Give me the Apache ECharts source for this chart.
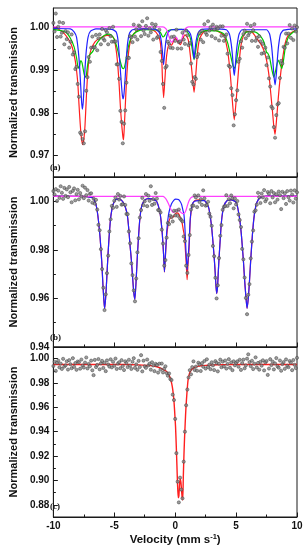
<!DOCTYPE html>
<html><head><meta charset="utf-8">
<script src="https://cdn.jsdelivr.net/npm/echarts@6/dist/echarts.min.js"></script>
<style>html,body{margin:0;padding:0;background:#fff}#c{width:306px;height:550px}</style>
</head><body><div id="c"></div>
<script>
// Channel velocities (mm/s)
const velocity = [
-10,-9.9,-9.8,-9.7,-9.6,-9.5,-9.4,-9.3,-9.2,-9.1,
-9,-8.9,-8.8,-8.7,-8.6,-8.5,-8.4,-8.3,-8.2,-8.1,
-8,-7.9,-7.8,-7.7,-7.6,-7.5,-7.4,-7.3,-7.2,-7.1,
-7,-6.9,-6.8,-6.7,-6.6,-6.5,-6.4,-6.3,-6.2,-6.1,
-6,-5.9,-5.8,-5.7,-5.6,-5.5,-5.4,-5.3,-5.2,-5.1,
-5,-4.9,-4.8,-4.7,-4.6,-4.5,-4.4,-4.3,-4.2,-4.1,
-4,-3.9,-3.8,-3.7,-3.6,-3.5,-3.4,-3.3,-3.2,-3.1,
-3,-2.9,-2.8,-2.7,-2.6,-2.5,-2.4,-2.3,-2.2,-2.1,
-2,-1.9,-1.8,-1.7,-1.6,-1.5,-1.4,-1.3,-1.2,-1.1,
-1,-0.9,-0.8,-0.7,-0.6,-0.5,-0.4,-0.3,-0.2,-0.1,
0,0.1,0.2,0.3,0.4,0.5,0.6,0.7,0.8,0.9,
1,1.1,1.2,1.3,1.4,1.5,1.6,1.7,1.8,1.9,
2,2.1,2.2,2.3,2.4,2.5,2.6,2.7,2.8,2.9,
3,3.1,3.2,3.3,3.4,3.5,3.6,3.7,3.8,3.9,
4,4.1,4.2,4.3,4.4,4.5,4.6,4.7,4.8,4.9,
5,5.1,5.2,5.3,5.4,5.5,5.6,5.7,5.8,5.9,
6,6.1,6.2,6.3,6.4,6.5,6.6,6.7,6.8,6.9,
7,7.1,7.2,7.3,7.4,7.5,7.6,7.7,7.8,7.9,
8,8.1,8.2,8.3,8.4,8.5,8.6,8.7,8.8,8.9,
9,9.1,9.2,9.3,9.4,9.5,9.6,9.7,9.8,9.9,10];

// Measured transmission, panel (a)
const measuredA = [
1.0011,0.9991,1.0033,0.9978,1.0002,1.0013,0.9979,0.9988,1.0011,0.9961,
0.9992,0.9973,0.9989,0.9953,0.9967,0.9984,0.9937,0.9942,0.9903,0.9908,
0.9868,0.9838,0.9754,0.9750,0.9739,0.9729,0.9757,0.9852,0.9884,0.9931,
0.9920,0.9953,0.9979,0.9954,0.9954,0.9983,0.9947,0.9975,0.9984,0.9961,
0.9997,0.9974,0.9970,0.9994,0.9989,0.9961,0.9999,0.9980,0.9967,1.0002,
0.9967,0.9968,0.9914,0.9914,0.9880,0.9805,0.9779,0.9729,0.9775,0.9806,
0.9871,0.9930,0.9929,0.9980,0.9977,0.9966,1.0007,0.9979,0.9996,0.9972,
1.0005,1.0003,0.9980,1.0015,0.9993,0.9985,1.0004,1.0022,0.9981,0.9998,
0.9989,1.0009,0.9972,1.0001,1.0007,0.9976,0.9979,0.9995,0.9943,0.9922,
0.9868,0.9812,0.9906,0.9910,0.9967,0.9962,0.9953,0.9978,0.9952,0.9979,
0.9969,0.9995,0.9951,0.9966,0.9968,0.9951,0.9988,0.9972,0.9962,0.9993,
0.9982,0.9959,0.9964,0.9916,0.9873,0.9867,0.9884,0.9880,0.9931,0.9938,
0.9987,0.9972,0.9993,0.9966,1.0008,0.9988,0.9983,1.0015,0.9993,1.0001,
0.9980,1.0007,0.9996,0.9975,1.0002,0.9998,0.9970,1.0003,0.9981,1.0003,
0.9969,0.9979,0.9984,0.9939,0.9911,0.9908,0.9858,0.9842,0.9771,0.9797,
0.9830,0.9853,0.9920,0.9927,0.9968,0.9953,0.9985,0.9993,0.9975,1.0009,
0.9982,0.9988,1.0004,0.9969,0.9994,1.0008,0.9969,0.9976,0.9955,0.9980,
0.9968,0.9939,0.9962,0.9941,0.9953,0.9912,0.9930,0.9881,0.9862,0.9815,
0.9811,0.9767,0.9742,0.9795,0.9820,0.9823,0.9882,0.9922,0.9916,0.9955,
0.9953,0.9986,0.9963,0.9986,1.0006,0.9976,0.9998,0.9971,1.0005,0.9991,1.0001];

// Measured transmission, panel (b)
const measuredB = [
1.0042,1.0028,1.0050,1.0001,1.0044,1.0014,1.0062,1.0035,1.0010,1.0055,
1.0022,1.0049,1.0017,1.0059,1.0037,0.9996,1.0043,1.0053,1.0004,1.0030,
1.0047,1.0008,1.0034,1.0020,1.0064,1.0013,1.0056,1.0025,1.0046,1.0003,
1.0031,1.0033,0.9994,1.0011,0.9990,1.0006,0.9966,0.9903,0.9881,0.9803,
0.9721,0.9644,0.9552,0.9617,0.9704,0.9776,0.9876,0.9926,0.9981,0.9973,
1.0002,1.0016,0.9977,1.0030,1.0007,1.0022,0.9986,0.9988,1.0020,0.9985,
0.9948,0.9947,0.9876,0.9827,0.9744,0.9696,0.9633,0.9588,0.9682,0.9790,
0.9848,0.9933,0.9964,1.0014,0.9984,1.0000,1.0030,0.9980,1.0023,1.0002,
1.0062,0.9985,1.0009,0.9990,1.0034,1.0011,0.9964,0.9963,0.9954,0.9883,
0.9826,0.9735,0.9758,0.9850,0.9911,0.9906,0.9940,0.9935,0.9917,0.9961,
0.9942,0.9961,0.9940,0.9966,0.9929,0.9923,0.9917,0.9855,0.9836,0.9735,
0.9705,0.9779,0.9861,0.9966,0.9982,0.9982,1.0024,1.0016,0.9976,1.0024,
0.9997,1.0009,0.9985,1.0045,1.0012,0.9982,0.9985,0.9998,0.9949,0.9936,
0.9899,0.9816,0.9774,0.9685,0.9600,0.9654,0.9766,0.9858,0.9902,0.9965,
0.9977,0.9980,1.0025,0.9981,1.0009,0.9992,1.0024,1.0012,0.9971,1.0012,
0.9987,1.0001,0.9946,0.9923,0.9894,0.9804,0.9761,0.9686,0.9602,0.9535,
0.9615,0.9659,0.9765,0.9834,0.9880,0.9957,0.9963,0.9986,1.0035,1.0017,
0.9993,1.0032,1.0016,1.0046,1.0000,1.0009,1.0038,1.0031,0.9992,1.0042,
1.0016,1.0034,0.9996,1.0029,1.0007,1.0040,1.0025,0.9968,1.0039,1.0013,
1.0033,0.9989,1.0042,1.0017,1.0003,1.0044,1.0028,0.9995,1.0045,1.0011,1.0037];

// Measured transmission, panel (c)
const measuredC = [
0.9939,0.9974,0.9899,0.9965,0.9983,0.9928,0.9959,0.9915,0.9998,0.9934,
0.9945,0.9978,0.9910,0.9987,0.9954,0.9921,1.0003,0.9932,0.9963,0.9908,
0.9976,0.9970,0.9917,0.9992,0.9943,0.9926,0.9967,1.0009,0.9919,0.9956,
0.9937,0.9983,0.9904,0.9864,0.9989,0.9930,0.9948,0.9996,0.9912,0.9961,
0.9981,0.9923,0.9965,0.9897,0.9985,0.9952,0.9934,0.9994,0.9928,0.9974,
0.9941,1.0000,0.9915,0.9959,0.9970,0.9921,0.9987,0.9939,0.9906,0.9978,
0.9963,0.9930,0.9990,0.9943,0.9915,0.9974,1.0003,0.9924,0.9952,0.9908,
0.9981,0.9931,1.0028,0.9895,0.9983,0.9937,0.9924,0.9992,0.9944,0.9959,
0.9909,0.9970,0.9943,0.9897,0.9957,0.9947,0.9885,0.9958,0.9910,0.9959,
0.9886,0.9916,0.9937,0.9881,0.9859,0.9878,0.9832,0.9824,0.9704,0.9660,
0.9505,0.9224,0.8990,0.8820,0.9023,0.8925,0.8853,0.9154,0.9400,0.9617,
0.9746,0.9845,0.9905,0.9871,0.9930,0.9977,0.9906,0.9934,0.9900,0.9966,
0.9952,0.9898,0.9963,0.9933,0.9980,0.9918,0.9994,0.9931,0.9950,0.9913,
0.9970,0.9944,0.9906,0.9979,0.9964,0.9895,0.9958,0.9991,0.9929,0.9975,
0.9936,0.9984,0.9918,0.9956,0.9995,0.9925,0.9969,0.9905,0.9978,0.9945,
0.9964,0.9977,0.9933,0.9990,0.9907,0.9962,0.9991,0.9920,0.9944,0.9999,
1.0035,0.9971,0.9938,0.9982,0.9914,0.9958,1.0010,0.9927,0.9964,0.9909,
0.9973,0.9942,0.9986,0.9903,0.9969,0.9980,0.9866,0.9918,0.9995,0.9947,
0.9975,0.9911,0.9960,1.0004,0.9936,0.9925,0.9984,0.9900,0.9955,0.9971,
0.9916,0.9993,0.9940,0.9929,0.9980,0.9966,0.9905,0.9988,0.9949,0.9922,1.0006];

// Fitted curves [velocity, transmission]
const fitTotalA = [[-10,0.9999],[-9.6,0.9997],[-9.1,0.9986],[-8.7,0.9970],[-8.45,0.9954],[-8.2,0.9922],[-8.0,0.9872],[-7.9,0.9822],[-7.8,0.9776],[-7.7,0.9742],[-7.6,0.9726],[-7.5,0.9738],[-7.4,0.9772],[-7.3,0.9832],[-7.2,0.9886],[-7.1,0.9920],[-7.0,0.9938],[-6.9,0.9949],[-6.6,0.9966],[-6.2,0.9975],[-5.6,0.9982],[-5.2,0.9980],[-5.0,0.9973],[-4.9,0.9958],[-4.8,0.9938],[-4.7,0.9908],[-4.6,0.9866],[-4.5,0.9816],[-4.4,0.9776],[-4.3,0.9746],[-4.25,0.9737],[-4.2,0.9754],[-4.1,0.9814],[-4.0,0.9874],[-3.9,0.9918],[-3.8,0.9948],[-3.6,0.9976],[-3.2,0.9991],[-2.7,0.9997],[-2.0,0.9996],[-1.6,0.9990],[-1.3,0.9975],[-1.2,0.9961],[-1.1,0.9925],[-1.05,0.9884],[-0.95,0.9836],[-0.85,0.9876],[-0.75,0.9920],[-0.65,0.9945],[-0.5,0.9962],[-0.4,0.9961],[-0.3,0.9959],[-0.15,0.9967],[0.05,0.9975],[0.25,0.9966],[0.43,0.9960],[0.6,0.9972],[0.8,0.9983],[1.0,0.9977],[1.1,0.9968],[1.24,0.9936],[1.4,0.9889],[1.55,0.9848],[1.69,0.9889],[1.84,0.9944],[2.02,0.9975],[2.37,0.9991],[3.0,0.9995],[3.6,0.9990],[4.06,0.9979],[4.2,0.9961],[4.32,0.9944],[4.53,0.9889],[4.72,0.9819],[4.85,0.9784],[5.0,0.9827],[5.19,0.9897],[5.37,0.9952],[5.58,0.9979],[5.9,0.9991],[6.3,0.9990],[6.69,0.9975],[7.08,0.9959],[7.3,0.9945],[7.47,0.9928],[7.6,0.9908],[7.73,0.9881],[7.85,0.9845],[7.99,0.9803],[8.1,0.9768],[8.2,0.9750],[8.35,0.9795],[8.45,0.9830],[8.56,0.9866],[8.77,0.9918],[9.04,0.9965],[9.3,0.9983],[9.69,0.9991],[10,0.9994]];
const fitSextet1A = [[-10,0.9998],[-8.6,0.9997],[-8.3,0.9990],[-8.1,0.9978],[-7.95,0.9945],[-7.85,0.9910],[-7.75,0.9860],[-7.68,0.9825],[-7.62,0.9809],[-7.55,0.9825],[-7.48,0.9862],[-7.4,0.9905],[-7.3,0.9945],[-7.15,0.9978],[-6.95,0.9992],[-6.5,0.9997],[-5.2,0.9996],[-4.85,0.9990],[-4.7,0.9972],[-4.6,0.9940],[-4.5,0.9900],[-4.4,0.9862],[-4.33,0.9840],[-4.27,0.9833],[-4.2,0.9845],[-4.1,0.9885],[-4.0,0.9932],[-3.9,0.9965],[-3.75,0.9987],[-3.5,0.9995],[-2.5,0.9997],[-1.6,0.9996],[-1.3,0.9988],[-1.15,0.9970],[-1.05,0.9945],[-0.95,0.9913],[-0.85,0.9945],[-0.75,0.9970],[-0.6,0.9988],[-0.3,0.9995],[0.7,0.9996],[1.0,0.9994],[1.25,0.9985],[1.4,0.9965],[1.48,0.9945],[1.55,0.9927],[1.62,0.9945],[1.7,0.9965],[1.85,0.9985],[2.1,0.9995],[3.0,0.9997],[4.2,0.9995],[4.45,0.9985],[4.6,0.9962],[4.7,0.9935],[4.78,0.9905],[4.85,0.9888],[4.92,0.9905],[5.0,0.9935],[5.1,0.9962],[5.25,0.9985],[5.5,0.9995],[7.5,0.9995],[7.75,0.9985],[7.9,0.9960],[8.0,0.9930],[8.1,0.9890],[8.2,0.9866],[8.3,0.9890],[8.4,0.9930],[8.5,0.9960],[8.65,0.9985],[8.9,0.9994],[10,0.9997]];
const fitSextet2A = [[-10,0.9996],[-9.0,0.9990],[-8.6,0.9975],[-8.3,0.9955],[-8.1,0.9930],[-7.95,0.9905],[-7.85,0.9910],[-7.75,0.9923],[-7.65,0.9918],[-7.5,0.9895],[-7.4,0.9884],[-7.3,0.9888],[-7.2,0.9910],[-7.05,0.9935],[-6.9,0.9940],[-6.75,0.9945],[-6.5,0.9960],[-6.2,0.9972],[-5.8,0.9982],[-5.4,0.9985],[-5.1,0.9978],[-4.9,0.9965],[-4.7,0.9945],[-4.5,0.9920],[-4.35,0.9906],[-4.22,0.9904],[-4.1,0.9915],[-3.95,0.9940],[-3.8,0.9960],[-3.6,0.9978],[-3.2,0.9990],[-2.5,0.9995],[-1.5,0.9994],[-1.2,0.9988],[-1.0,0.9978],[-0.9,0.9980],[-0.7,0.9990],[-0.4,0.9995],[0.5,0.9996],[1.0,0.9990],[1.25,0.9975],[1.42,0.9945],[1.55,0.9925],[1.68,0.9945],[1.85,0.9975],[2.1,0.9988],[2.5,0.9993],[3.5,0.9992],[4.0,0.9985],[4.3,0.9965],[4.55,0.9935],[4.75,0.9910],[4.88,0.9905],[5.05,0.9925],[5.25,0.9960],[5.5,0.9980],[5.9,0.9990],[6.5,0.9990],[7.0,0.9980],[7.3,0.9965],[7.5,0.9942],[7.6,0.9940],[7.75,0.9930],[7.95,0.9900],[8.1,0.9884],[8.25,0.9900],[8.45,0.9924],[8.6,0.9915],[8.75,0.9904],[8.9,0.9925],[9.05,0.9955],[9.3,0.9978],[9.7,0.9990],[10,0.9993]];
const fitDoubletA = [[-10,1.0002],[-1.0,1.0002],[-0.75,0.9997],[-0.6,0.9988],[-0.45,0.9974],[-0.3,0.9966],[-0.18,0.9969],[-0.05,0.9977],[0.08,0.9978],[0.2,0.9972],[0.32,0.9966],[0.43,0.9965],[0.55,0.9974],[0.7,0.9989],[0.85,0.9998],[1.1,1.0002],[10,1.0002]];

const fitTotalB = [[-10,1.0021],[-7.5,1.0020],[-7.0,1.0017],[-6.76,1.0014],[-6.6,1.0000],[-6.5,0.9986],[-6.4,0.9960],[-6.29,0.9917],[-6.16,0.9848],[-6.03,0.9752],[-5.93,0.9655],[-5.85,0.9590],[-5.79,0.9559],[-5.72,0.9595],[-5.66,0.9641],[-5.56,0.9738],[-5.45,0.9834],[-5.3,0.9931],[-5.2,0.9965],[-5.11,0.9986],[-4.88,1.0007],[-4.6,1.0010],[-4.4,1.0004],[-4.2,0.9990],[-4.0,0.9960],[-3.9,0.9932],[-3.8,0.9880],[-3.7,0.9815],[-3.6,0.9760],[-3.5,0.9690],[-3.4,0.9625],[-3.31,0.9597],[-3.2,0.9680],[-3.1,0.9780],[-3.0,0.9860],[-2.9,0.9928],[-2.75,0.9980],[-2.5,1.0005],[-2.2,1.0011],[-1.9,1.0010],[-1.53,1.0000],[-1.27,0.9959],[-1.15,0.9915],[-1.05,0.9860],[-0.95,0.9779],[-0.88,0.9708],[-0.8,0.9775],[-0.7,0.9855],[-0.6,0.9898],[-0.5,0.9920],[-0.4,0.9932],[-0.3,0.9932],[-0.15,0.9936],[0.0,0.9947],[0.15,0.9952],[0.3,0.9947],[0.45,0.9930],[0.55,0.9916],[0.65,0.9887],[0.75,0.9860],[0.85,0.9790],[0.92,0.9730],[0.98,0.9677],[1.05,0.9738],[1.14,0.9803],[1.24,0.9921],[1.4,0.9984],[1.6,1.0002],[2.0,1.0006],[2.4,1.0003],[2.6,0.9990],[2.76,0.9972],[2.9,0.9930],[3.0,0.9890],[3.12,0.9821],[3.2,0.9770],[3.28,0.9710],[3.35,0.9650],[3.41,0.9620],[3.48,0.9650],[3.54,0.9710],[3.6,0.9765],[3.67,0.9821],[3.8,0.9917],[3.99,0.9979],[4.27,1.0003],[4.6,1.0006],[4.98,0.9997],[5.11,0.9979],[5.22,0.9950],[5.32,0.9917],[5.42,0.9870],[5.5,0.9821],[5.6,0.9755],[5.69,0.9683],[5.8,0.9610],[5.9,0.9559],[6.0,0.9600],[6.08,0.9655],[6.15,0.9715],[6.21,0.9766],[6.34,0.9862],[6.42,0.9910],[6.5,0.9945],[6.6,0.9975],[6.68,0.9993],[6.94,1.0014],[7.47,1.0021],[10,1.0021]];
const fitSextetB = [[-10,1.0021],[-7.5,1.0020],[-7.0,1.0017],[-6.76,1.0014],[-6.6,1.0000],[-6.5,0.9986],[-6.4,0.9960],[-6.29,0.9917],[-6.16,0.9848],[-6.03,0.9752],[-5.93,0.9655],[-5.85,0.9590],[-5.79,0.9559],[-5.72,0.9595],[-5.66,0.9641],[-5.56,0.9738],[-5.45,0.9834],[-5.3,0.9931],[-5.2,0.9965],[-5.11,0.9986],[-4.88,1.0007],[-4.6,1.0010],[-4.4,1.0004],[-4.2,0.9990],[-4.0,0.9960],[-3.9,0.9932],[-3.8,0.9880],[-3.7,0.9815],[-3.6,0.9760],[-3.5,0.9690],[-3.4,0.9625],[-3.31,0.9597],[-3.2,0.9680],[-3.1,0.9780],[-3.0,0.9860],[-2.9,0.9928],[-2.75,0.9980],[-2.5,1.0005],[-2.2,1.0011],[-1.9,1.0010],[-1.53,1.0000],[-1.27,0.9959],[-1.15,0.9915],[-1.05,0.9860],[-0.95,0.9779],[-0.88,0.9710],[-0.8,0.9779],[-0.7,0.9870],[-0.6,0.9925],[-0.49,0.9959],[-0.3,0.9990],[-0.1,1.0005],[0.05,1.0009],[0.27,1.0007],[0.42,0.9998],[0.53,0.9986],[0.63,0.9965],[0.72,0.9945],[0.8,0.9890],[0.88,0.9800],[0.94,0.9745],[0.98,0.9717],[1.04,0.9750],[1.14,0.9825],[1.24,0.9931],[1.4,0.9986],[1.58,1.0000],[1.97,1.0003],[2.4,1.0003],[2.6,0.9990],[2.76,0.9972],[2.9,0.9930],[3.0,0.9890],[3.12,0.9821],[3.2,0.9770],[3.28,0.9710],[3.35,0.9650],[3.41,0.9620],[3.48,0.9650],[3.54,0.9710],[3.6,0.9765],[3.67,0.9821],[3.8,0.9917],[3.99,0.9979],[4.27,1.0003],[4.6,1.0006],[4.98,0.9997],[5.11,0.9979],[5.22,0.9950],[5.32,0.9917],[5.42,0.9870],[5.5,0.9821],[5.6,0.9755],[5.69,0.9683],[5.8,0.9610],[5.9,0.9559],[6.0,0.9600],[6.08,0.9655],[6.15,0.9715],[6.21,0.9766],[6.34,0.9862],[6.42,0.9910],[6.5,0.9945],[6.6,0.9975],[6.68,0.9993],[6.94,1.0014],[7.47,1.0021],[10,1.0021]];
const fitDoubletB = [[-10,1.0020],[-1.0,1.0020],[-0.85,1.0015],[-0.7,1.0005],[-0.55,0.9990],[-0.4,0.9972],[-0.25,0.9958],[-0.15,0.9954],[-0.05,0.9957],[0.1,0.9963],[0.2,0.9964],[0.35,0.9960],[0.5,0.9953],[0.65,0.9949],[0.75,0.9950],[0.88,0.9962],[1.0,0.9982],[1.12,1.0000],[1.25,1.0012],[1.4,1.0018],[1.6,1.0020],[10,1.0020]];

const fitTotalC = [[-10,0.9952],[-4,0.9951],[-3,0.9948],[-2,0.9942],[-1.5,0.9933],[-1.2,0.9922],[-1.0,0.9912],[-0.75,0.9898],[-0.6,0.9880],[-0.45,0.9852],[-0.37,0.9828],[-0.28,0.9792],[-0.2,0.9745],[-0.11,0.9665],[-0.04,0.9560],[0.03,0.9440],[0.09,0.9280],[0.14,0.9130],[0.19,0.8980],[0.25,0.8858],[0.3,0.8870],[0.36,0.8970],[0.41,0.9010],[0.47,0.8985],[0.53,0.8910],[0.58,0.8855],[0.62,0.8840],[0.67,0.9040],[0.72,0.9210],[0.77,0.9350],[0.82,0.9465],[0.88,0.9590],[0.97,0.9725],[1.06,0.9825],[1.18,0.9880],[1.3,0.9903],[1.45,0.9920],[1.7,0.9932],[2.0,0.9939],[2.5,0.9944],[3.5,0.9949],[5,0.9951],[10,0.9952]];

// Axis ticks
const yTicksA = [0.97,0.98,0.99,1.00], yMinorA = [0.975,0.985,0.995];
const yTicksB = [0.94,0.96,0.98,1.00], yMinorB = [0.95,0.97,0.99];
const yTicksC = [0.88,0.90,0.92,0.94,0.96,0.98,1.00], yMinorC = [0.89,0.91,0.93,0.95,0.97,0.99];

const ink = '#1a1a1a';
const sans = '"Liberation Sans", Arial, sans-serif';
const cRed = '#ff1f1f', cBlue = '#2222ff', cGreen = '#00c800', cMag = '#ff40ff';

function yAxes(gridIndex, min, max, major, minor) {
  return [{
    type:'value', gridIndex, min, max, position:'left',
    axisLine:{show:true, onZero:false, lineStyle:{color:ink, width:1}},
    axisTick:{show:true, inside:true, length:4.5, customValues:major, lineStyle:{color:ink, width:1}},
    axisLabel:{show:true, customValues:major, formatter:v=>Number(v).toFixed(2), fontSize:10, fontWeight:'bold', fontFamily:sans, color:'#111', margin:4},
    splitLine:{show:false},
    name:'Normalized transmission', nameLocation:'middle', nameGap:17,
    nameTextStyle:{fontSize:11, fontWeight:'bold', fontFamily:sans, color:'#111'}
  },{
    type:'value', gridIndex, min, max, position:'left',
    axisLine:{show:false, onZero:false}, axisLabel:{show:false}, splitLine:{show:false},
    axisTick:{show:true, inside:true, length:2.5, customValues:minor, lineStyle:{color:ink, width:1}}
  }];
}
function xAxis(gridIndex, withLabels) {
  const ax = {
    type:'value', gridIndex, min:-10, max:10, interval:5, position:'bottom',
    axisLine:{show:true, onZero:false, lineStyle:{color:ink, width:1}},
    axisTick:{show:true, inside:true, length:4.5, lineStyle:{color:ink, width:1}},
    minorTick:{show:true, splitNumber:2, length:2.5, lineStyle:{color:ink, width:1}},
    axisLabel:{show:withLabels, fontSize:10, fontWeight:'bold', fontFamily:sans, color:'#111', margin:4},
    splitLine:{show:false}, minorSplitLine:{show:false}
  };
  if (withLabels) {
    ax.name = '{a|Velocity (mm s}{s|-1}{a|)}';
    ax.nameLocation = 'middle';
    ax.nameGap = 16;
    ax.nameTextStyle = {rich:{
      a:{fontSize:11.5, fontWeight:'bold', fontFamily:sans, color:'#111', lineHeight:14},
      s:{fontSize:7.5, fontWeight:'bold', fontFamily:sans, color:'#111', verticalAlign:'top', lineHeight:9}
    }};
  }
  return ax;
}
function lineS(data, color, xi, yi, z, w) {
  return {type:'line', data, xAxisIndex:xi, yAxisIndex:yi, symbol:'none', showSymbol:false,
    smooth:0.2, lineStyle:{color, width:w||1.2}, z, silent:true, animation:false};
}
function dots(values, xi, yi) {
  return {type:'scatter', data: velocity.map((v,i)=>[v, values[i]]), xAxisIndex:xi, yAxisIndex:yi,
    symbol:'circle', symbolSize:3.2, itemStyle:{color:'#858585', borderColor:'#3c3c3c', borderWidth:0.6},
    z:10, silent:true, animation:false};
}

const chart = echarts.init(document.getElementById('c'), null, {renderer:'canvas'});
chart.setOption({
  animation:false,
  backgroundColor:'#fff',
  grid:[
    {left:42, right:9, top:8, height:169, show:true, borderColor:ink, borderWidth:1, containLabel:false},
    {left:42, right:9, top:177, height:170, show:true, borderColor:ink, borderWidth:1, containLabel:false},
    {left:42, right:9, top:347, height:170, show:true, borderColor:ink, borderWidth:1, containLabel:false}
  ],
  xAxis:[xAxis(0,false), xAxis(1,false), xAxis(2,true)],
  yAxis:[].concat(
    yAxes(0, 0.965, 1.0046, yTicksA, yMinorA),
    yAxes(1, 0.94, 1.010, yTicksB, yMinorB),
    yAxes(2, 0.87, 1.0095, yTicksC, yMinorC)
  ),
  graphic:[
    {type:'text', left:50, top:163, style:{text:'(a)', font:'bold 9px "Liberation Serif", "Times New Roman", serif', fill:'#111'}},
    {type:'text', left:50, top:333, style:{text:'(b)', font:'bold 9px "Liberation Serif", "Times New Roman", serif', fill:'#111'}},
    {type:'text', left:50, top:502, style:{text:'(c)', font:'bold 9px "Liberation Serif", "Times New Roman", serif', fill:'#111'}}
  ],
  series:[
    lineS(fitTotalA, cRed, 0, 0, 2),
    lineS(fitSextet2A, cGreen, 0, 0, 3),
    lineS(fitSextet1A, cBlue, 0, 0, 4),
    lineS(fitDoubletA, cMag, 0, 0, 5),
    dots(measuredA, 0, 0),
    lineS(fitTotalB, cRed, 1, 2, 2),
    lineS(fitSextetB, cBlue, 1, 2, 4),
    lineS(fitDoubletB, cMag, 1, 2, 5),
    dots(measuredB, 1, 2),
    lineS(fitTotalC, cRed, 2, 4, 2, 1.4),
    dots(measuredC, 2, 4)
  ]
});
</script></body></html>
